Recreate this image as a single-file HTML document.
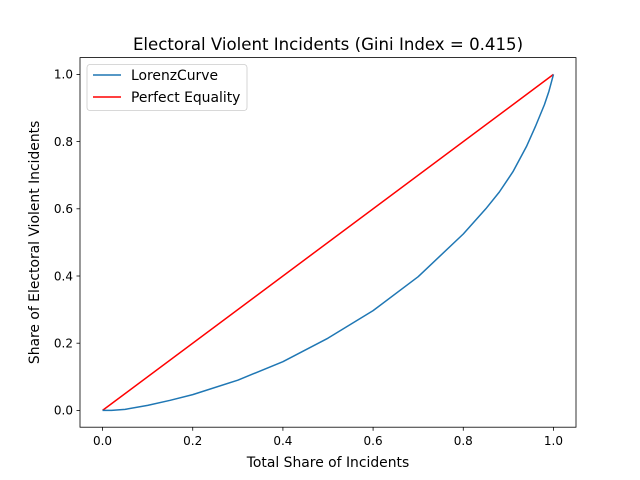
<!DOCTYPE html>
<html><head><meta charset="utf-8"><style>
html,body{margin:0;padding:0;background:#fff;}
svg{display:block;font-family:"DejaVu Sans","Liberation Sans",sans-serif;}
</style></head><body>
<svg id="chart" width="640" height="480" viewBox="0 0 640 480"></svg>
<script>
const xTicks = [0.0, 0.2, 0.4, 0.6, 0.8, 1.0];
const yTicks = [0.0, 0.2, 0.4, 0.6, 0.8, 1.0];
const lorenzX = [0, 0.02, 0.05, 0.1, 0.15, 0.2, 0.3, 0.4, 0.5, 0.6, 0.7, 0.8, 0.85, 0.88, 0.91, 0.94, 0.96, 0.98, 0.99, 1.0];
const lorenzY = [0, 0.0, 0.003, 0.015, 0.03, 0.047, 0.09, 0.145, 0.215, 0.297, 0.398, 0.525, 0.6, 0.65, 0.71, 0.785, 0.845, 0.91, 0.95, 1.0];
const equalityX = [0, 1];
const equalityY = [0, 1];

const L=80,R=576,T=57.6,B=427.2;
const xmin=-0.05,xmax=1.05,ymin=-0.05,ymax=1.05;
const sx=v=>L+(v-xmin)/(xmax-xmin)*(R-L);
const sy=v=>B-(v-ymin)/(ymax-ymin)*(B-T);
const svg=document.getElementById('chart');
const NS='http://www.w3.org/2000/svg';
function mk(tag,attrs,parent){const e=document.createElementNS(NS,tag);for(const k in attrs)e.setAttribute(k,attrs[k]);(parent||svg).appendChild(e);return e;}

const frame=mk('rect',{x:L,y:T,width:R-L,height:B-T,fill:'none',stroke:'#000','stroke-width':0.8});



xTicks.forEach(v=>{
  const g=mk('g',{});
  
  
  mk('line',{x1:sx(v),x2:sx(v),y1:B,y2:B+3.5,stroke:'#000','stroke-width':0.8},g);
  const t=mk('text',{x:sx(v),y:B+18,'text-anchor':'middle','font-size':12},g);
  t.textContent=v.toFixed(1);
});
yTicks.forEach(v=>{
  const g=mk('g',{});
  
  
  mk('line',{x1:L-3.5,x2:L,y1:sy(v),y2:sy(v),stroke:'#000','stroke-width':0.8},g);
  const t=mk('text',{x:L-7,y:sy(v)+4.3,'text-anchor':'end','font-size':12},g);
  t.textContent=v.toFixed(1);
});

const eq=mk('polyline',{points:equalityX.map((x,i)=>sx(x)+','+sy(equalityY[i])).join(' '),fill:'none',stroke:'#ff0000','stroke-width':1.5});


const lc=mk('polyline',{points:lorenzX.map((x,i)=>sx(x)+','+sy(lorenzY[i])).join(' '),fill:'none',stroke:'#1f77b4','stroke-width':1.5,'stroke-linejoin':'round'});



const title=mk('text',{x:(L+R)/2,y:50,'text-anchor':'middle','font-size':16.6});
title.textContent='Electoral Violent Incidents (Gini Index = 0.415)';


const xl=mk('text',{x:(L+R)/2,y:467,'text-anchor':'middle','font-size':13.9});
xl.textContent='Total Share of Incidents';


const yl=mk('text',{x:0,y:0,'text-anchor':'middle','font-size':13.9,transform:'translate(39,'+((T+B)/2)+') rotate(-90)'});
yl.textContent='Share of Electoral Violent Incidents';



const lg=mk('g',{});


mk('rect',{x:87,y:64.5,width:160,height:46,rx:3,fill:'#fff',stroke:'#ccc','stroke-width':0.8,'fill-opacity':0.8},lg);
const e1=mk('g',{},lg);


mk('line',{x1:93,x2:121,y1:75,y2:75,stroke:'#1f77b4','stroke-width':1.5},e1);
mk('text',{x:131,y:80,'font-size':13.9},e1).textContent='LorenzCurve';
const e2=mk('g',{},lg);


mk('line',{x1:93,x2:121,y1:97,y2:97,stroke:'#ff0000','stroke-width':1.5},e2);
mk('text',{x:131,y:102,'font-size':13.9},e2).textContent='Perfect Equality';
</script>
</body></html>
